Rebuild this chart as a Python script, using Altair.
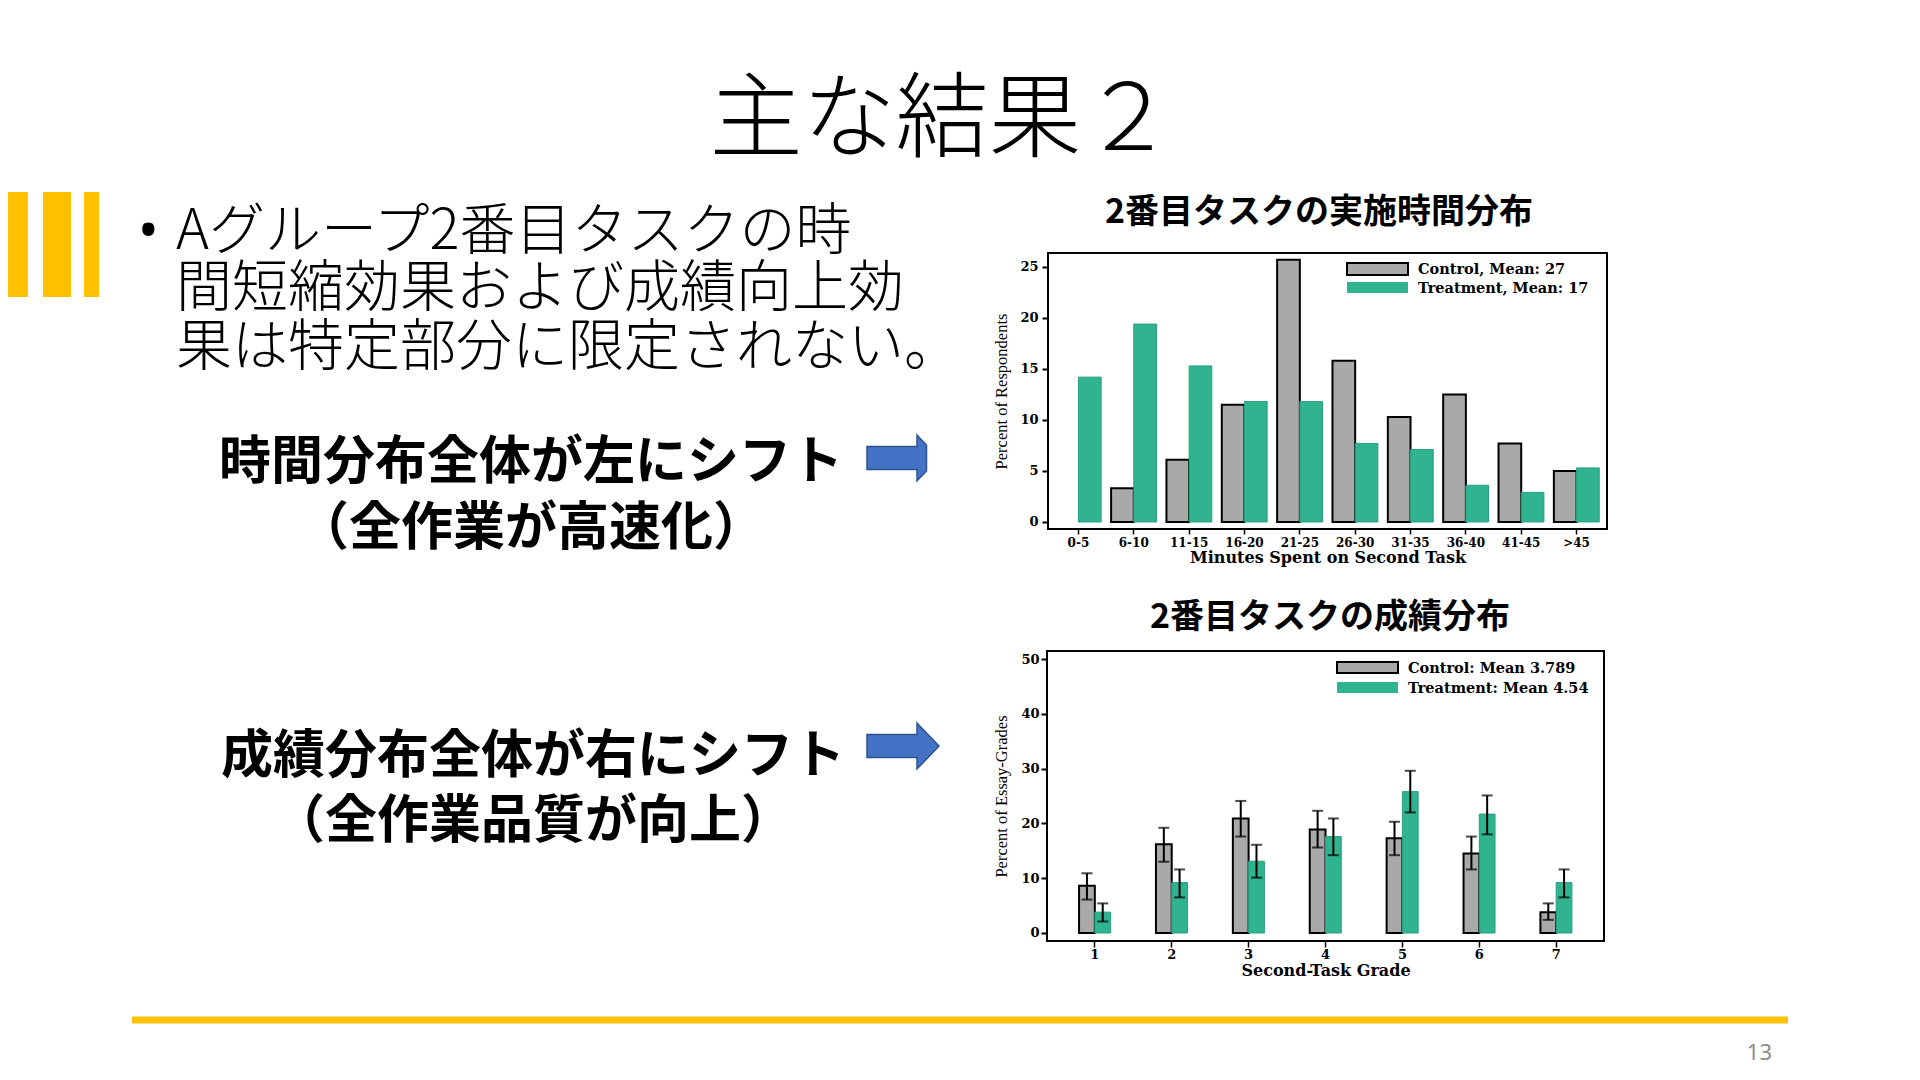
import altair as alt
import pandas as pd

OFF = 8  # page margin of the html page

# ---------------- data ----------------
groups = ["Control", "Treatment"]

time_bins = ["0-5", "6-10", "11-15", "16-20", "21-25", "26-30", "31-35", "36-40", "41-45", ">45"]
time_control = [0.0, 3.3, 6.1, 11.5, 25.7, 15.8, 10.3, 12.5, 7.7, 5.0]
time_treatment = [14.2, 19.4, 15.3, 11.8, 11.8, 7.7, 7.1, 3.6, 2.9, 5.3]
time_legend = ["Control, Mean: 27", "Treatment, Mean: 17"]
time_y_ticks = [0, 5, 10, 15, 20, 25]

grade_bins = ["1", "2", "3", "4", "5", "6", "7"]
grade_control = [8.6, 16.2, 20.9, 18.9, 17.3, 14.5, 3.8]
grade_control_lo = [6.1, 13.0, 17.6, 15.6, 14.2, 11.6, 2.4]
grade_control_hi = [10.9, 19.2, 24.1, 22.3, 20.3, 17.6, 5.4]
grade_treatment = [3.8, 9.2, 13.1, 17.6, 25.8, 21.7, 9.2]
grade_treatment_lo = [2.1, 6.5, 10.1, 14.2, 22.0, 18.0, 6.5]
grade_treatment_hi = [5.4, 11.6, 16.1, 20.9, 29.6, 25.1, 11.6]
grade_legend = ["Control: Mean 3.789", "Treatment: Mean 4.54"]
grade_y_ticks = [0, 10, 20, 30, 40, 50]

slide_title = "主な結果２"
bullet_lines = ["Aグループ2番目タスクの時", "間短縮効果および成績向上効", "果は特定部分に限定されない。"]
time_msg = ["時間分布全体が左にシフト", "（全作業が高速化）"]
grade_msg = ["成績分布全体が右にシフト", "（全作業品質が向上）"]
chart1_title = "2番目タスクの実施時間分布"
chart2_title = "2番目タスクの成績分布"
time_x_title = "Minutes Spent on Second Task"
time_y_title = "Percent of Respondents"
grade_x_title = "Second-Task Grade"
grade_y_title = "Percent of Essay-Grades"
page_number = "13"

# ---------------- styles ----------------
JP = "Noto Sans CJK JP"
SERIF_W = "DejaVu Serif"
SERIF = "Liberation Serif"
YELLOW = "#FFC000"
GRAY = "#a9a9a9"
GREEN = "#30b38f"
GREEN_EDGE = "#2a9e7f"

W, H = 1920 - 2 * OFF, 1080 - 2 * OFF


def P(v):
    return v - OFF


one = pd.DataFrame({"t": [""]})


def txt(s, x, y, size, weight="normal", font=JP, align="left", color="black", baseline="alphabetic"):
    return alt.Chart(pd.DataFrame({"t": [s]})).mark_text(
        x=P(x), y=P(y), fontSize=size, fontWeight=weight, font=font,
        align=align, baseline=baseline, color=color
    ).encode(text="t:N")


def box(x1, x2, y1, y2, fill=None, stroke=None, sw=0):
    kw = {}
    if fill is not None:
        kw["fill"] = fill
    else:
        kw["fill"] = "transparent"
    if stroke is not None:
        kw["stroke"] = stroke
        kw["strokeWidth"] = sw
    return alt.Chart(one).mark_rect(**kw).encode(
        x=alt.value(P(x1)), x2=alt.value(P(x2)), y=alt.value(P(y1)), y2=alt.value(P(y2))
    )


ARROW_FULL = "M-1,-0.319L0.389,-0.319L0.389,-0.639L1,0L0.389,0.639L0.389,0.319L-1,0.319Z"
ARROW_CUT = "M-1,-0.319L0.389,-0.319L0.389,-0.639L0.653,-0.363L0.653,0.363L0.389,0.639L0.389,0.319L-1,0.319Z"


def arrow(path, x, y):
    return alt.Chart(one).mark_point(
        shape=path, size=72 * 72, filled=True, fill="#4472C4", stroke="#2F528F",
        strokeWidth=1.5, opacity=1
    ).encode(x=alt.value(P(x)), y=alt.value(P(y)))


decor = []
# yellow marker bars
decor += [box(0, 28, 192, 297, fill=YELLOW), box(43, 71, 192, 297, fill=YELLOW), box(84, 99, 192, 297, fill=YELLOW)]
# bottom line
decor.append(box(132, 1788, 1016.5, 1023.5, fill=YELLOW))
# title
decor.append(txt(slide_title, 942, 150, 93, weight=300, align="center"))
# bullet
decor.append(txt("•", 138, 249, 55, font="Noto Sans"))
for line, base in zip(bullet_lines, [249, 306, 365]):
    decor.append(txt(line, 176, base, 56, weight=300))
# bold messages
for line, base in zip(time_msg, [479, 545]):
    decor.append(txt(line, 531, base, 52, weight="bold", align="center"))
for line, base in zip(grade_msg, [773, 838]):
    decor.append(txt(line, 533, base, 52, weight="bold", align="center"))
decor.append(arrow(ARROW_CUT, 903, 458))
decor.append(arrow(ARROW_FULL, 903, 746))
# chart titles
decor.append(txt(chart1_title, 1319, 223, 34, weight="bold", align="center"))
decor.append(txt(chart2_title, 1330, 628, 34, weight="bold", align="center"))
# page number
decor.append(txt(page_number, 1772, 1060, 22, font="Noto Sans", align="right", color="#8c8c8c"))

# ---------------- chart 1: time distribution ----------------
time_df = pd.DataFrame({
    "bin": time_bins * 2,
    "group": [groups[0]] * len(time_bins) + [groups[1]] * len(time_bins),
    "value": time_control + time_treatment,
})

fill_enc = alt.Fill("group:N", scale=alt.Scale(domain=groups, range=[GRAY, GREEN]), legend=None)
stroke_enc = alt.Stroke("group:N", scale=alt.Scale(domain=groups, range=["#000000", GREEN_EDGE]), legend=None)
sw_enc = alt.StrokeWidth("group:N", scale=alt.Scale(domain=groups, range=[2, 1]), legend=None)

axis_label = dict(labelFont=SERIF_W, labelFontWeight="bold", labelColor="black")
x1_axis = alt.Axis(orient="bottom", offset=P(529) - H, title=time_x_title, labelAngle=0, domain=False,
                   grid=False, tickSize=5, tickWidth=1.5, tickColor="black", labelPadding=3,
                   labelFontSize=12, titleFont=SERIF_W, titleFontSize=16, titleFontWeight="bold",
                   titleColor="black", titlePadding=1, **axis_label)
y1_axis = alt.Axis(orient="left", offset=-P(1048), values=time_y_ticks, title=time_y_title, domain=False,
                   grid=False, tickSize=6, tickWidth=2, tickColor="black", labelPadding=4,
                   labelFontSize=13, titleFont=SERIF, titleFontSize=16.5, titleFontWeight="normal",
                   titleColor="black", titlePadding=10, **axis_label)

x1 = alt.X("bin:N", scale=alt.Scale(domain=time_bins, range=[P(1048), P(1607)],
                                    paddingInner=0.18, paddingOuter=0.14), axis=x1_axis)
y1 = alt.Y("value:Q", scale=alt.Scale(domain=[-0.69, 26.37], range=[P(529), P(253)], nice=False, zero=False),
           axis=y1_axis)

chart1 = alt.Chart(time_df).transform_filter("datum.value > 0").mark_bar().encode(
    x=x1,
    xOffset=alt.XOffset("group:N", scale=alt.Scale(domain=groups)),
    y=y1,
    y2=alt.datum(0),
    fill=fill_enc,
    stroke=stroke_enc,
    strokeWidth=sw_enc,
)

decor.append(box(1048, 1607, 253, 529, stroke="black", sw=2))
decor.append(box(1347, 1408, 263, 275, fill=GRAY, stroke="black", sw=2))
decor.append(box(1347, 1408, 282, 293, fill=GREEN))
decor.append(txt(time_legend[0], 1418, 270, 14.5, font=SERIF_W, weight="bold", baseline="middle"))
decor.append(txt(time_legend[1], 1418, 289, 14.5, font=SERIF_W, weight="bold", baseline="middle"))

# ---------------- chart 2: grade distribution ----------------
grade_df = pd.DataFrame({
    "grade": grade_bins * 2,
    "group": [groups[0]] * len(grade_bins) + [groups[1]] * len(grade_bins),
    "value": grade_control + grade_treatment,
    "lo": grade_control_lo + grade_treatment_lo,
    "hi": grade_control_hi + grade_treatment_hi,
})

x2_axis = alt.Axis(orient="bottom", offset=P(941) - H, title=grade_x_title, labelAngle=0, domain=False,
                   grid=False, tickSize=6, tickWidth=1.5, tickColor="black", labelPadding=1,
                   labelFontSize=13, titleFont=SERIF_W, titleFontSize=16, titleFontWeight="bold",
                   titleColor="black", titlePadding=1, **axis_label)
y2_axis = alt.Axis(orient="left", offset=-P(1047), values=grade_y_ticks, title=grade_y_title, domain=False,
                   grid=False, tickSize=6, tickWidth=2, tickColor="black", labelPadding=2,
                   labelFontSize=13, titleFont=SERIF, titleFontSize=16.5, titleFontWeight="normal",
                   titleColor="black", titlePadding=11, **axis_label)

x2_scale = alt.Scale(domain=grade_bins, range=[P(1047), P(1604)], paddingInner=0.59, paddingOuter=0.417)
y2_scale = alt.Scale(domain=[-1.46, 51.46], range=[P(941), P(651)], nice=False, zero=False)


def x2e():
    return alt.X("grade:N", scale=x2_scale, axis=x2_axis)


def y2e(field):
    return alt.Y(f"{field}:Q", scale=y2_scale, axis=y2_axis)


xo2 = alt.XOffset("group:N", scale=alt.Scale(domain=groups))

base2 = alt.Chart(grade_df)
bars2 = base2.mark_bar().encode(
    x=x2e(), xOffset=xo2, y=y2e("value"), y2=alt.datum(0),
    fill=fill_enc, stroke=stroke_enc, strokeWidth=sw_enc,
)
rules2 = base2.mark_rule(color="black", strokeWidth=2).encode(
    x=x2e(), xOffset=xo2, y=y2e("lo"), y2="hi:Q"
)
caps_lo = base2.mark_tick(color="black", thickness=2, size=11).encode(x=x2e(), xOffset=xo2, y=y2e("lo"))
caps_hi = base2.mark_tick(color="black", thickness=2, size=11).encode(x=x2e(), xOffset=xo2, y=y2e("hi"))
chart2 = alt.layer(bars2, rules2, caps_lo, caps_hi)

decor.append(box(1047, 1604, 651, 941, stroke="black", sw=2))
decor.append(box(1337, 1398, 662, 673, fill=GRAY, stroke="black", sw=2))
decor.append(box(1337, 1398, 682, 693, fill=GREEN))
decor.append(txt(grade_legend[0], 1408, 668.5, 14.5, font=SERIF_W, weight="bold", baseline="middle"))
decor.append(txt(grade_legend[1], 1408, 688.5, 14.5, font=SERIF_W, weight="bold", baseline="middle"))

chart = alt.layer(chart1, chart2, *decor).resolve_scale(
    x="independent", y="independent", xOffset="independent"
).properties(
    width=W, height=H, padding=0, autosize=alt.AutoSizeParams(type="none"), background="white"
).configure_view(stroke=None)

chart.save("out.html", embed_options={"renderer": "svg", "actions": False})
